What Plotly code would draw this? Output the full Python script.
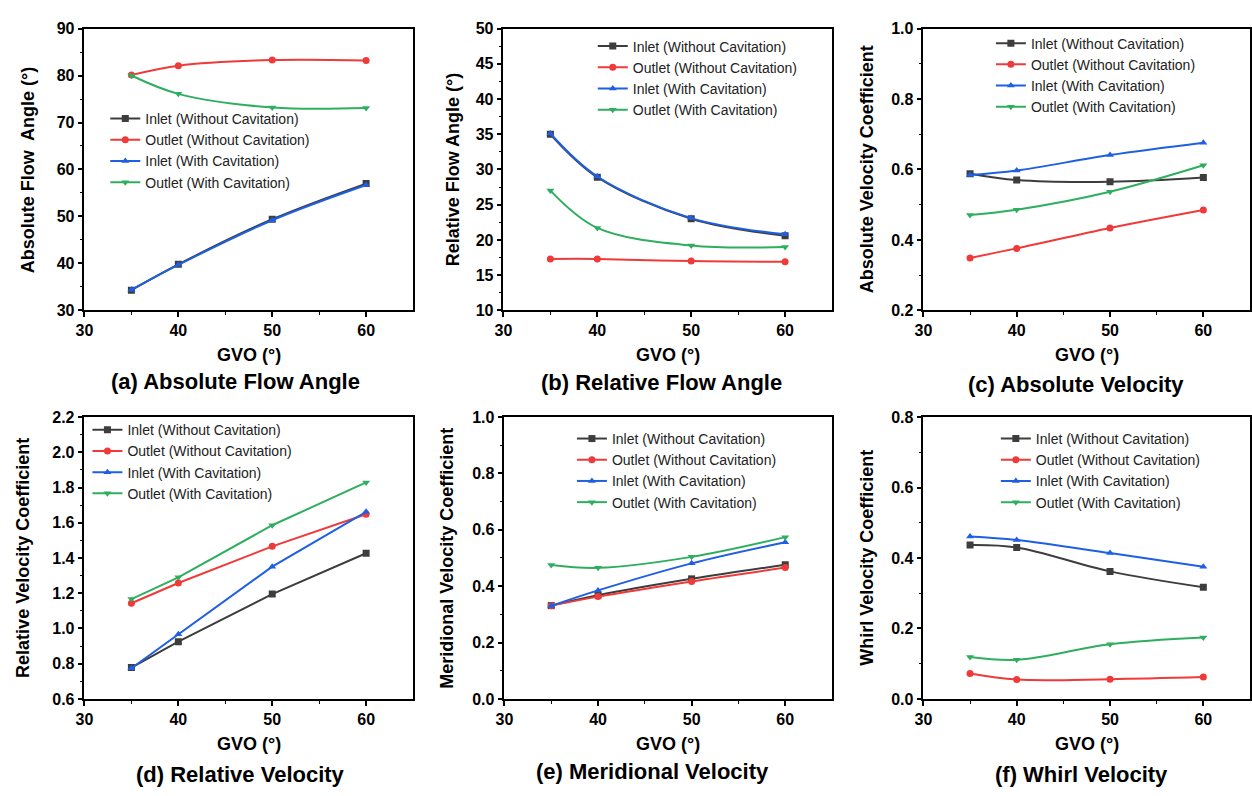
import plotly.graph_objects as go

W, H = 1252, 796

gvo = [35, 40, 50, 60]
series_names = ["Inlet (Without Cavitation)", "Outlet (Without Cavitation)",
                "Inlet (With Cavitation)", "Outlet (With Cavitation)"]

# (a) Absolute flow angle
abs_angle_in_wo = [34.3, 39.8, 49.4, 57.0]
abs_angle_out_wo = [80.1, 82.1, 83.3, 83.2]
abs_angle_in_w = [34.4, 39.7, 49.2, 56.7]
abs_angle_out_w = [80.0, 76.1, 73.2, 73.1]
# (b) Relative flow angle
rel_angle_in_wo = [35.0, 28.9, 23.0, 20.6]
rel_angle_out_wo = [17.3, 17.3, 17.0, 16.9]
rel_angle_in_w = [35.1, 29.0, 23.1, 20.8]
rel_angle_out_w = [27.0, 21.7, 19.2, 19.0]
# (c) Absolute velocity coefficient
abs_vel_in_wo = [0.588, 0.570, 0.565, 0.577]
abs_vel_out_wo = [0.349, 0.376, 0.434, 0.485]
abs_vel_in_w = [0.584, 0.597, 0.641, 0.676]
abs_vel_out_w = [0.471, 0.486, 0.537, 0.612]
# (d) Relative velocity coefficient
rel_vel_in_wo = [0.778, 0.925, 1.195, 1.427]
rel_vel_out_wo = [1.143, 1.258, 1.466, 1.648]
rel_vel_in_w = [0.774, 0.967, 1.351, 1.662]
rel_vel_out_w = [1.167, 1.290, 1.586, 1.829]
# (e) Meridional velocity coefficient
mer_vel_in_wo = [0.331, 0.368, 0.426, 0.476]
mer_vel_out_wo = [0.331, 0.363, 0.417, 0.466]
mer_vel_in_w = [0.330, 0.385, 0.481, 0.556]
mer_vel_out_w = [0.475, 0.465, 0.504, 0.574]
# (f) Whirl velocity coefficient
whirl_in_wo = [0.437, 0.430, 0.362, 0.317]
whirl_out_wo = [0.072, 0.055, 0.056, 0.062]
whirl_in_w = [0.461, 0.451, 0.414, 0.375]
whirl_out_w = [0.119, 0.111, 0.155, 0.174]

panels = [
    dict(data=[abs_angle_in_wo, abs_angle_out_wo, abs_angle_in_w, abs_angle_out_w],
         ytitle="Absolute Flow  Angle (°)", caption="(a) Absolute Flow Angle",
         yrange=[30, 90], dtick=10, minor=5, fmt="d", shape="spline"),
    dict(data=[rel_angle_in_wo, rel_angle_out_wo, rel_angle_in_w, rel_angle_out_w],
         ytitle="Relative Flow Angle (°)", caption="(b) Relative Flow Angle",
         yrange=[10, 50], dtick=5, minor=2.5, fmt="d", shape="spline"),
    dict(data=[abs_vel_in_wo, abs_vel_out_wo, abs_vel_in_w, abs_vel_out_w],
         ytitle="Absolute Velocity Coefficient", caption="(c) Absolute Velocity",
         yrange=[0.2, 1.0], dtick=0.2, minor=0.1, fmt=".1f", shape="spline"),
    dict(data=[rel_vel_in_wo, rel_vel_out_wo, rel_vel_in_w, rel_vel_out_w],
         ytitle="Relative Velocity Coefficient", caption="(d) Relative Velocity",
         yrange=[0.6, 2.2], dtick=0.2, minor=0.1, fmt=".1f", shape="linear"),
    dict(data=[mer_vel_in_wo, mer_vel_out_wo, mer_vel_in_w, mer_vel_out_w],
         ytitle="Meridional Velocity Coefficient", caption="(e) Meridional Velocity",
         yrange=[0.0, 1.0], dtick=0.2, minor=0.1, fmt=".1f", shape="spline"),
    dict(data=[whirl_in_wo, whirl_out_wo, whirl_in_w, whirl_out_w],
         ytitle="Whirl Velocity Coefficient", caption="(f) Whirl Velocity",
         yrange=[0.0, 0.8], dtick=0.2, minor=0.1, fmt=".1f", shape="spline"),
]

# layout geometry in pixels
px_x = [(76, 407), (498, 829), (921, 1250), (76, 407), (499, 829), (921, 1250)]
px_y = [(21, 309), (21, 309), (21, 309), (418, 706), (418, 706), (418, 706)]
ytitle_x = [20, 448, 865, 14, 441, 864]
xtitle_y = [355, 355, 355, 752, 752, 752]
cap_x = [228, 657, 1075, 233, 648, 1080]
cap_y = [382, 383, 385, 783, 780, 783]
legend_xy = [(97, 97), (588, 23), (989, 20), (79, 415), (567, 424), (994, 424)]

colors = ["#3d3d3d", "#f03a3a", "#1f5fe3", "#2fae60"]
symbols = ["square", "circle", "triangle-up", "triangle-down"]

FONT = "Liberation Sans, Arial, sans-serif"

fig = go.Figure()
annotations = []
layout = {}

def fx(p):
    return p / W

def fy(p):
    return 1 - p / H

for i, pnl in enumerate(panels):
    k = i + 1
    xa = "x" if k == 1 else f"x{k}"
    ya = "y" if k == 1 else f"y{k}"
    lg = "legend" if k == 1 else f"legend{k}"
    for j in range(4):
        fig.add_trace(go.Scatter(
            x=gvo, y=pnl["data"][j], name=series_names[j],
            mode="lines+markers", xaxis=xa, yaxis=ya, legend=lg,
            line=dict(color=colors[j], width=2, shape=pnl["shape"], smoothing=1.0),
            marker=dict(symbol=symbols[j], size=7, color=colors[j]),
        ))
    x0, x1 = px_x[i]
    y0, y1 = px_y[i]
    axis_common = dict(
        showline=True, linecolor="black", linewidth=1.5, mirror=True,
        showgrid=False, zeroline=False, ticks="outside", ticklen=5, tickwidth=1.5,
        tickcolor="black",
        tickfont=dict(family=FONT, size=16, color="black", weight="bold"),
    )
    layout[f"xaxis{'' if k == 1 else k}"] = dict(
        axis_common, domain=[fx(x0), fx(x1)], anchor=ya, range=[30, 65],
        tickvals=[30, 40, 50, 60], ticktext=["30", "40", "50", "60"],
        minor=dict(ticks="outside", ticklen=3, tickwidth=1.2, tickcolor="black",
                   tickvals=[35, 45, 55], showgrid=False),
    )
    lo, hi = pnl["yrange"]
    layout[f"yaxis{'' if k == 1 else k}"] = dict(
        axis_common, domain=[fy(y1), fy(y0)], anchor=xa, range=[lo, hi],
        tick0=lo, dtick=pnl["dtick"], tickformat=pnl["fmt"],
        minor=dict(ticks="outside", ticklen=3, tickwidth=1.2, tickcolor="black",
                   dtick=pnl["minor"], tick0=lo, showgrid=False),
    )
    lx, ly = legend_xy[i]
    layout[lg] = dict(
        x=fx(lx), y=fy(ly), xanchor="left", yanchor="top", xref="paper", yref="paper",
        bgcolor="rgba(0,0,0,0)", borderwidth=0,
        font=dict(family=FONT, size=14, color="#222"), tracegroupgap=0,
        itemclick=False,
    )
    annotations.append(dict(
        text=pnl["ytitle"], x=fx(ytitle_x[i]), y=fy((y0 + y1) / 2), xref="paper", yref="paper",
        textangle=-90, showarrow=False, xanchor="center", yanchor="middle",
        font=dict(family=FONT, size=18, color="black", weight="bold"),
    ))
    annotations.append(dict(
        text="GVO (°)", x=fx((x0 + x1) / 2), y=fy(xtitle_y[i]), xref="paper", yref="paper",
        showarrow=False, xanchor="center", yanchor="middle",
        font=dict(family=FONT, size=18, color="black", weight="bold"),
    ))
    annotations.append(dict(
        text=pnl["caption"], x=fx(cap_x[i]), y=fy(cap_y[i]), xref="paper", yref="paper",
        showarrow=False, xanchor="center", yanchor="middle",
        font=dict(family=FONT, size=22, color="black", weight="bold"),
    ))

fig.update_layout(
    width=W, height=H, margin=dict(l=0, r=0, t=0, b=0),
    paper_bgcolor="white", plot_bgcolor="white",
    showlegend=True, annotations=annotations, **layout,
)

fig.write_html("out.html")
